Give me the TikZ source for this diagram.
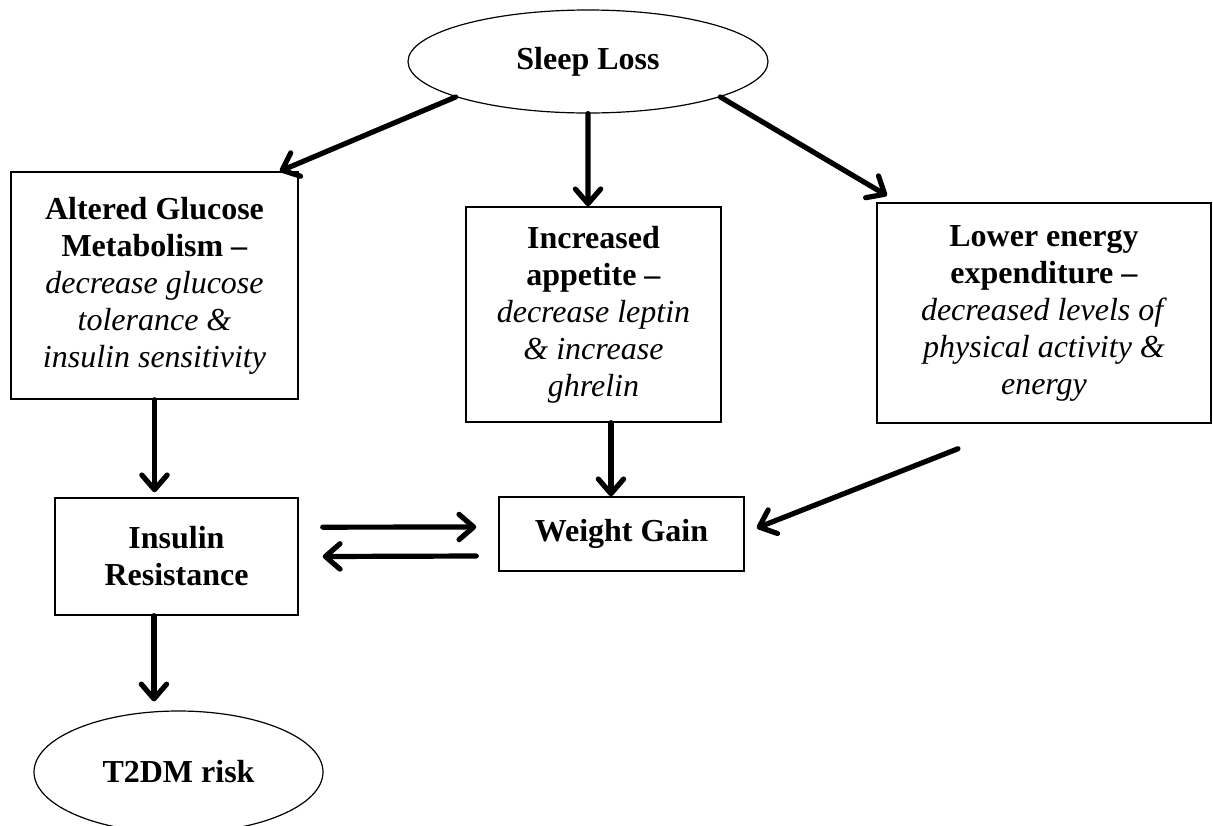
\documentclass[tikz,border=0pt]{standalone}
\usepackage{fontspec}
\setmainfont{Liberation Serif}
\usetikzlibrary{shapes.geometric,arrows.meta}

\tikzset{
  flowbox/.style={draw,rectangle,line width=1.1pt,inner sep=0pt,align=center,font=\fontsize{24}{27.75}\selectfont},
  ovalnode/.style={draw,ellipse,line width=0.9pt,inner sep=0pt,font=\bfseries\fontsize{24}{27.75}\selectfont},
  thickarrow/.style={line width=3.9pt,line cap=round,-{Straight Barb[length=11pt,width=19pt,round]}}
}

\begin{document}
\begin{tikzpicture}[x=0.75pt,y=-0.75pt]
\useasboundingbox (0,0) rectangle (1213,825);

%Shape: Ellipse
\node[ovalnode,minimum width=270pt,minimum height=77.25pt] (sleep) at (588,61.5) {Sleep Loss};
%Shape: Rectangle
\node[flowbox,minimum width=215.25pt,minimum height=170.25pt] (glucose) at (154.5,285.5)
  {\textbf{Altered Glucose}\\ \textbf{Metabolism –}\\ \textit{decrease glucose}\\ \textit{tolerance \&}\\ \textit{insulin sensitivity}};
%Shape: Rectangle
\node[flowbox,minimum width=191.25pt,minimum height=161.25pt] (appetite) at (593.5,314.5)
  {\textbf{Increased}\\ \textbf{appetite –}\\ \textit{decrease leptin}\\ \textit{\& increase}\\ \textit{ghrelin}};
%Shape: Rectangle
\node[flowbox,minimum width=250.5pt,minimum height=165pt] (energy) at (1044,313)
  {\textbf{Lower energy}\\ \textbf{expenditure –}\\ \textit{decreased levels of}\\ \textit{physical activity \&}\\ \textit{energy}};
%Shape: Rectangle
\node[flowbox,minimum width=182.25pt,minimum height=87.75pt] (insulin) at (176.5,556.5)
  {\textbf{Insulin}\\ \textbf{Resistance}};
%Shape: Rectangle
\node[flowbox,minimum width=183.75pt,minimum height=55.5pt] (weight) at (621.5,534)
  {\textbf{Weight Gain}};
%Shape: Ellipse
\node[ovalnode,minimum width=216.75pt,minimum height=91.5pt] (risk) at (178.5,772) {T2DM risk};

%Straight Lines
\draw[thickarrow] (sleep.195) -- ([xshift=-14.25pt]glucose.north east);
\draw[thickarrow] (sleep.south) -- ([xshift=-4.1pt]appetite.north);
\draw[thickarrow] (sleep.345) -- ([xshift=8pt,yshift=5pt]energy.north west);

%Straight Lines
\draw[thickarrow] (glucose.south) -- ([xshift=-16.5pt,yshift=3.75pt]insulin.north);
\draw[thickarrow] ([xshift=13.1pt]appetite.south) -- ([xshift=-7.9pt]weight.north);
\draw[thickarrow] ([xshift=-64.5pt,yshift=-18.75pt]energy.south) -- ([xshift=9pt,yshift=4.5pt]weight.east);

%Straight Lines
\draw[thickarrow] ([xshift=18pt,yshift=22pt]insulin.east) -- ([xshift=-16.5pt,yshift=5.25pt]weight.west);
\draw[thickarrow] ([xshift=-16.5pt,yshift=-16.5pt]weight.west) -- ([xshift=18pt]insulin.east);
\draw[thickarrow] ([xshift=-16.9pt]insulin.south) -- ([xshift=-18.4pt,yshift=6.75pt]risk.north);

\end{tikzpicture}
\end{document}
